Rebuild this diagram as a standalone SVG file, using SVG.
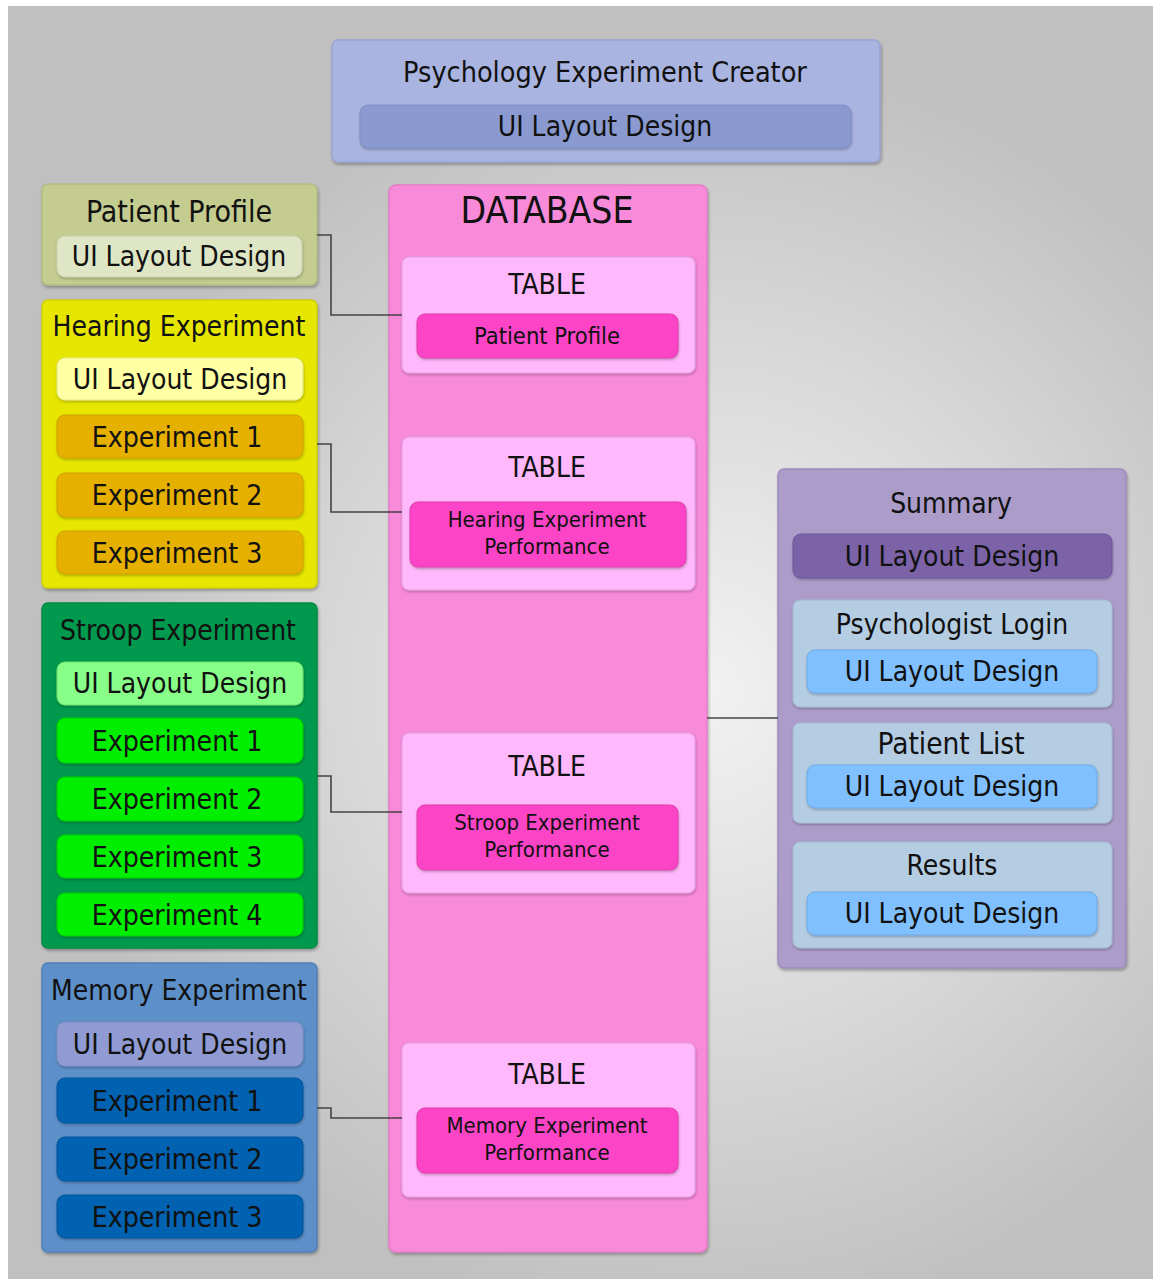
<svg xmlns="http://www.w3.org/2000/svg" width="1153" height="1279" viewBox="0 0 1153 1279">
<defs>
<radialGradient id="bg" cx="700" cy="690" r="640" gradientUnits="userSpaceOnUse">
<stop offset="0" stop-color="#f2f2f2"/>
<stop offset="0.55" stop-color="#d8d8d8"/>
<stop offset="1" stop-color="#c0c0c0"/>
</radialGradient>
<filter id="sh" x="-10%" y="-10%" width="120%" height="120%">
<feDropShadow dx="1" dy="2" stdDeviation="1.5" flood-color="#000" flood-opacity="0.3"/>
</filter>
<filter id="sh2" x="-10%" y="-10%" width="120%" height="130%">
<feDropShadow dx="0.5" dy="1.5" stdDeviation="0.8" flood-color="#000" flood-opacity="0.25"/>
</filter>
</defs>
<style>
text{font-family:"DejaVu Sans Condensed","DejaVu Sans",sans-serif;font-stretch:condensed;fill:#111;text-anchor:middle}
.t28{font-size:28px}
.t30{font-size:30px}
.t29{font-size:29.5px}
.tpe{font-size:28.5px}
.tui{font-size:28px}
.tex{font-size:28.2px}
.t22{font-size:22px}
.t23{font-size:23.5px}
.t37{font-size:37px}
.outer{filter:url(#sh);stroke-width:1.5}
.inner{filter:url(#sh2);stroke-width:1}
.con{fill:none;stroke:#444;stroke-width:1.6}
</style>
<rect x="0" y="0" width="1153" height="1279" fill="#fff"/>
<rect x="8" y="6" width="1145" height="1273" fill="url(#bg)"/>

<g id="creator">
<rect class="outer" x="332" y="40" width="548" height="122" rx="6" fill="#a9b4e0" stroke="#9aa4d2"/>
<text class="tpe" x="605" y="82">Psychology Experiment Creator</text>
<g id="creator-ui">
<rect class="inner" x="360" y="105" width="491" height="43" rx="8" fill="#8a9ad0" stroke="#7f8fc6"/>
<text class="tui" x="605" y="136">UI Layout Design</text>
</g>
</g>

<g id="patient-profile">
<rect class="outer" x="42" y="184" width="275" height="101" rx="6" fill="#c5cc90" stroke="#b5bc82"/>
<text class="t30" x="179" y="222">Patient Profile</text>
<g id="patient-profile-ui">
<rect class="inner" x="57" y="236" width="245" height="41" rx="8" fill="#dfe6c5" stroke="#c8cfae"/>
<text class="tui" x="179" y="266">UI Layout Design</text>
</g>
</g>

<g id="hearing">
<rect class="outer" x="42" y="300" width="275" height="288" rx="6" fill="#e6e600" stroke="#d0d000"/>
<text class="t28" x="179" y="336">Hearing Experiment</text>
<g id="hearing-ui">
<rect class="inner" x="57" y="358" width="246" height="42" rx="8" fill="#ffffa3" stroke="#e6e690"/>
<text class="tui" x="180" y="389">UI Layout Design</text>
</g>
<g id="hearing-exp1">
<rect class="inner" x="57" y="415" width="246" height="43" rx="8" fill="#e6b000" stroke="#d0a000"/>
<text class="tex" x="177" y="447">Experiment 1</text>
</g>
<g id="hearing-exp2">
<rect class="inner" x="57" y="473" width="246" height="44" rx="8" fill="#e6b000" stroke="#d0a000"/>
<text class="tex" x="177" y="505">Experiment 2</text>
</g>
<g id="hearing-exp3">
<rect class="inner" x="57" y="531" width="246" height="43" rx="8" fill="#e6b000" stroke="#d0a000"/>
<text class="tex" x="177" y="563">Experiment 3</text>
</g>
</g>

<g id="stroop">
<rect class="outer" x="42" y="603" width="275" height="345" rx="6" fill="#00994d" stroke="#008a44"/>
<text class="t28" x="178" y="640">Stroop Experiment</text>
<g id="stroop-ui">
<rect class="inner" x="57" y="662" width="246" height="43" rx="8" fill="#88ff88" stroke="#70e070"/>
<text class="tui" x="180" y="693">UI Layout Design</text>
</g>
<g id="stroop-exp1">
<rect class="inner" x="57" y="718" width="246" height="45" rx="8" fill="#00ee00" stroke="#00cc00"/>
<text class="tex" x="177" y="751">Experiment 1</text>
</g>
<g id="stroop-exp2">
<rect class="inner" x="57" y="777" width="246" height="44" rx="8" fill="#00ee00" stroke="#00cc00"/>
<text class="tex" x="177" y="809">Experiment 2</text>
</g>
<g id="stroop-exp3">
<rect class="inner" x="57" y="835" width="246" height="43" rx="8" fill="#00ee00" stroke="#00cc00"/>
<text class="tex" x="177" y="867">Experiment 3</text>
</g>
<g id="stroop-exp4">
<rect class="inner" x="57" y="893" width="246" height="43" rx="8" fill="#00ee00" stroke="#00cc00"/>
<text class="tex" x="177" y="925">Experiment 4</text>
</g>
</g>

<g id="memory">
<rect class="outer" x="42" y="963" width="275" height="289" rx="6" fill="#5d8fc8" stroke="#5080b8"/>
<text class="t28" x="179" y="1000">Memory Experiment</text>
<g id="memory-ui">
<rect class="inner" x="57" y="1022" width="246" height="44" rx="8" fill="#8f9bd2" stroke="#7f8bc2"/>
<text class="tui" x="180" y="1054">UI Layout Design</text>
</g>
<g id="memory-exp1">
<rect class="inner" x="57" y="1078" width="246" height="45" rx="8" fill="#0062b0" stroke="#00559a"/>
<text class="tex" x="177" y="1111">Experiment 1</text>
</g>
<g id="memory-exp2">
<rect class="inner" x="57" y="1137" width="246" height="44" rx="8" fill="#0062b0" stroke="#00559a"/>
<text class="tex" x="177" y="1169">Experiment 2</text>
</g>
<g id="memory-exp3">
<rect class="inner" x="57" y="1195" width="246" height="43" rx="8" fill="#0062b0" stroke="#00559a"/>
<text class="tex" x="177" y="1227">Experiment 3</text>
</g>
</g>

<g id="database">
<rect class="outer" x="389" y="185" width="318" height="1067" rx="7" fill="#f78ad9" stroke="#e67cc8"/>
<text class="t37" x="547" y="223">DATABASE</text>
<g id="table-patient">
<rect class="inner" x="402" y="257" width="293" height="116" rx="7" fill="#ffb8fb" stroke="#e3a0e0"/>
<text class="t28" x="547" y="294">TABLE</text>
<rect class="inner" x="417" y="314" width="261" height="44" rx="8" fill="#fb44c6" stroke="#e03aae"/>
<text class="t23" x="547" y="344">Patient Profile</text>
</g>
<g id="table-hearing">
<rect class="inner" x="402" y="437" width="293" height="153" rx="7" fill="#ffb8fb" stroke="#e3a0e0"/>
<text class="t28" x="547" y="477">TABLE</text>
<rect class="inner" x="410" y="502" width="276" height="65" rx="8" fill="#fb44c6" stroke="#e03aae"/>
<text class="t22" x="547" y="527">Hearing Experiment</text>
<text class="t22" x="547" y="554">Performance</text>
</g>
<g id="table-stroop">
<rect class="inner" x="402" y="733" width="293" height="160" rx="7" fill="#ffb8fb" stroke="#e3a0e0"/>
<text class="t28" x="547" y="776">TABLE</text>
<rect class="inner" x="417" y="805" width="261" height="65" rx="8" fill="#fb44c6" stroke="#e03aae"/>
<text class="t22" x="547" y="830">Stroop Experiment</text>
<text class="t22" x="547" y="857">Performance</text>
</g>
<g id="table-memory">
<rect class="inner" x="402" y="1043" width="293" height="154" rx="7" fill="#ffb8fb" stroke="#e3a0e0"/>
<text class="t28" x="547" y="1084">TABLE</text>
<rect class="inner" x="417" y="1108" width="261" height="65" rx="8" fill="#fb44c6" stroke="#e03aae"/>
<text class="t22" x="547" y="1133">Memory Experiment</text>
<text class="t22" x="547" y="1160">Performance</text>
</g>
</g>

<g id="summary">
<rect class="outer" x="778" y="469" width="348" height="499" rx="6" fill="#ab9cc9" stroke="#9c8dba"/>
<text class="t28" x="951" y="513">Summary</text>
<g id="summary-ui">
<rect class="inner" x="793" y="534" width="319" height="44" rx="8" fill="#7b64a8" stroke="#6c5699"/>
<text class="tui" x="952" y="566">UI Layout Design</text>
</g>
<g id="psychologist-login">
<rect class="inner" x="793" y="600" width="319" height="107" rx="7" fill="#b5cde3" stroke="#a2b9d0"/>
<text class="t28" x="952" y="634">Psychologist Login</text>
<rect class="inner" x="807" y="650" width="290" height="43" rx="8" fill="#80c0ff" stroke="#6eaae8"/>
<text class="tui" x="952" y="681">UI Layout Design</text>
</g>
<g id="patient-list">
<rect class="inner" x="793" y="723" width="319" height="100" rx="7" fill="#b5cde3" stroke="#a2b9d0"/>
<text class="t29" x="951" y="754">Patient List</text>
<rect class="inner" x="807" y="765" width="290" height="43" rx="8" fill="#80c0ff" stroke="#6eaae8"/>
<text class="tui" x="952" y="796">UI Layout Design</text>
</g>
<g id="results">
<rect class="inner" x="793" y="842" width="319" height="106" rx="7" fill="#b5cde3" stroke="#a2b9d0"/>
<text class="t28" x="952" y="875">Results</text>
<rect class="inner" x="807" y="892" width="290" height="43" rx="8" fill="#80c0ff" stroke="#6eaae8"/>
<text class="tui" x="952" y="923">UI Layout Design</text>
</g>
</g>

<g id="connectors">
<polyline class="con" points="317,235 331,235 331,315 402,315"/>
<polyline class="con" points="317,444 331,444 331,512 402,512"/>
<polyline class="con" points="317,776 331,776 331,812 402,812"/>
<polyline class="con" points="317,1108 331,1108 331,1118 402,1118"/>
<line class="con" x1="707" y1="718" x2="778" y2="718"/>
</g>
</svg>
